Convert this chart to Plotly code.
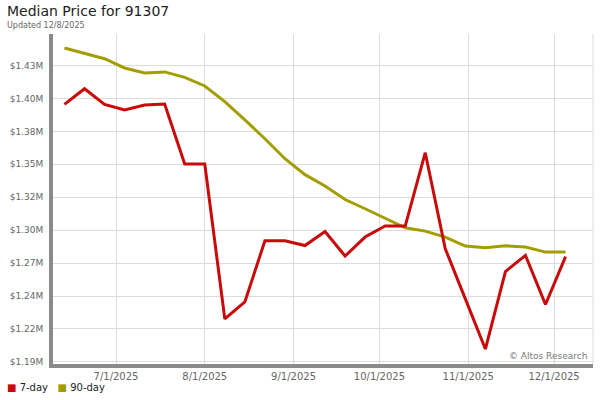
import plotly.graph_objects as go

# weekly observations
dates = [
    "2025-06-13", "2025-06-20", "2025-06-27", "2025-07-04", "2025-07-11",
    "2025-07-18", "2025-07-25", "2025-08-01", "2025-08-08", "2025-08-15",
    "2025-08-22", "2025-08-29", "2025-09-05", "2025-09-12", "2025-09-19",
    "2025-09-26", "2025-10-03", "2025-10-10", "2025-10-17", "2025-10-24",
    "2025-10-31", "2025-11-07", "2025-11-14", "2025-11-21", "2025-11-28",
    "2025-12-05",
]
price_7day = [
    1398500, 1411200, 1398500, 1394000, 1398000, 1398800, 1350200, 1350200,
    1224800, 1238600, 1288000, 1288000, 1284200, 1295600, 1275700, 1291100,
    1300000, 1300000, 1359400, 1281600, 1241000, 1200400, 1263200, 1276200,
    1236500, 1275300,
]
price_90day = [
    1444200, 1439600, 1435500, 1428000, 1424000, 1424800, 1420400, 1413400,
    1400700, 1386000, 1370700, 1354500, 1341600, 1332400, 1321500, 1314000,
    1306500, 1298600, 1295900, 1291000, 1283800, 1282400, 1284000, 1283000,
    1278900, 1278900,
]

y_ticks = [1190000 + i * 26666.67 for i in range(10)]
y_labels = ["$1.19M", "$1.22M", "$1.24M", "$1.27M", "$1.30M",
            "$1.32M", "$1.35M", "$1.38M", "$1.40M", "$1.43M"]
x_ticks = ["2025-07-01", "2025-08-01", "2025-09-01", "2025-10-01",
           "2025-11-01", "2025-12-01"]
x_labels = ["7/1/2025", "8/1/2025", "9/1/2025", "10/1/2025",
            "11/1/2025", "12/1/2025"]
series_names = ["7-day", "90-day"]

RED = "#c80a0a"
OLIVE = "#a39e00"
GRID = "#dcdcdc"
AXIS = "#8a8a8a"
FONT = "DejaVu Sans"

fig = go.Figure()

fig.add_trace(go.Scatter(
    x=dates, y=price_90day, mode="lines", name=series_names[1],
    line=dict(color=OLIVE, width=3), showlegend=False,
))
fig.add_trace(go.Scatter(
    x=dates, y=price_7day, mode="lines", name=series_names[0],
    line=dict(color=RED, width=3), showlegend=False,
))

# legend drawn as text with coloured squares
legend_html = (
    f"<span style='color:{RED}'>■</span> {series_names[0]}"
    f"&nbsp;&nbsp;&nbsp;<span style='color:{OLIVE}'>■</span> {series_names[1]}"
)

fig.update_layout(
    width=600, height=400,
    margin=dict(l=53, r=7, t=34, b=36),
    paper_bgcolor="white", plot_bgcolor="white",
    font=dict(family=FONT, size=10, color="#666"),
    xaxis=dict(
        range=["2025-06-09", "2025-12-14 14:00"],
        tickvals=x_ticks, ticktext=x_labels,
        showgrid=True, gridcolor=GRID, gridwidth=1,
        showline=True, linecolor=AXIS, linewidth=4,
        ticks="", tickfont=dict(size=10, color="#666"),
        zeroline=False, automargin=False,
    ),
    yaxis=dict(
        range=[1188300, 1455500],
        tickvals=y_ticks, ticktext=y_labels,
        showgrid=True, gridcolor=GRID, gridwidth=1,
        showline=True, linecolor=AXIS, linewidth=4,
        ticks="", ticklabelstandoff=4,
        tickfont=dict(size=9, color="#666"),
        zeroline=False, automargin=False,
    ),
    showlegend=False,
    annotations=[
        dict(text="Median Price for 91307", xref="paper", yref="paper",
             x=0, y=1, xanchor="left", yanchor="top", showarrow=False,
             xshift=-48, yshift=33, font=dict(size=14, color="#222")),
        dict(text="Updated 12/8/2025", xref="paper", yref="paper",
             x=0, y=1, xanchor="left", yanchor="top", showarrow=False,
             xshift=-48, yshift=15, font=dict(size=8, color="#666")),
        dict(text="© Altos Research", xref="paper", yref="paper",
             x=1, y=0, xanchor="right", yanchor="bottom", showarrow=False,
             xshift=-4, yshift=1, font=dict(size=9, color="#777")),
        dict(text=legend_html, xref="paper", yref="paper",
             x=0, y=0, xanchor="left", yanchor="top", showarrow=False,
             xshift=-48, yshift=-16, font=dict(size=10, color="#222")),
    ],
)

# right border line
fig.add_shape(type="line", xref="paper", yref="paper", x0=1, x1=1, y0=0, y1=1,
              line=dict(color=GRID, width=1))

fig.write_html("out.html", config={"displayModeBar": False},
               post_script="document.body.style.margin='0';")
